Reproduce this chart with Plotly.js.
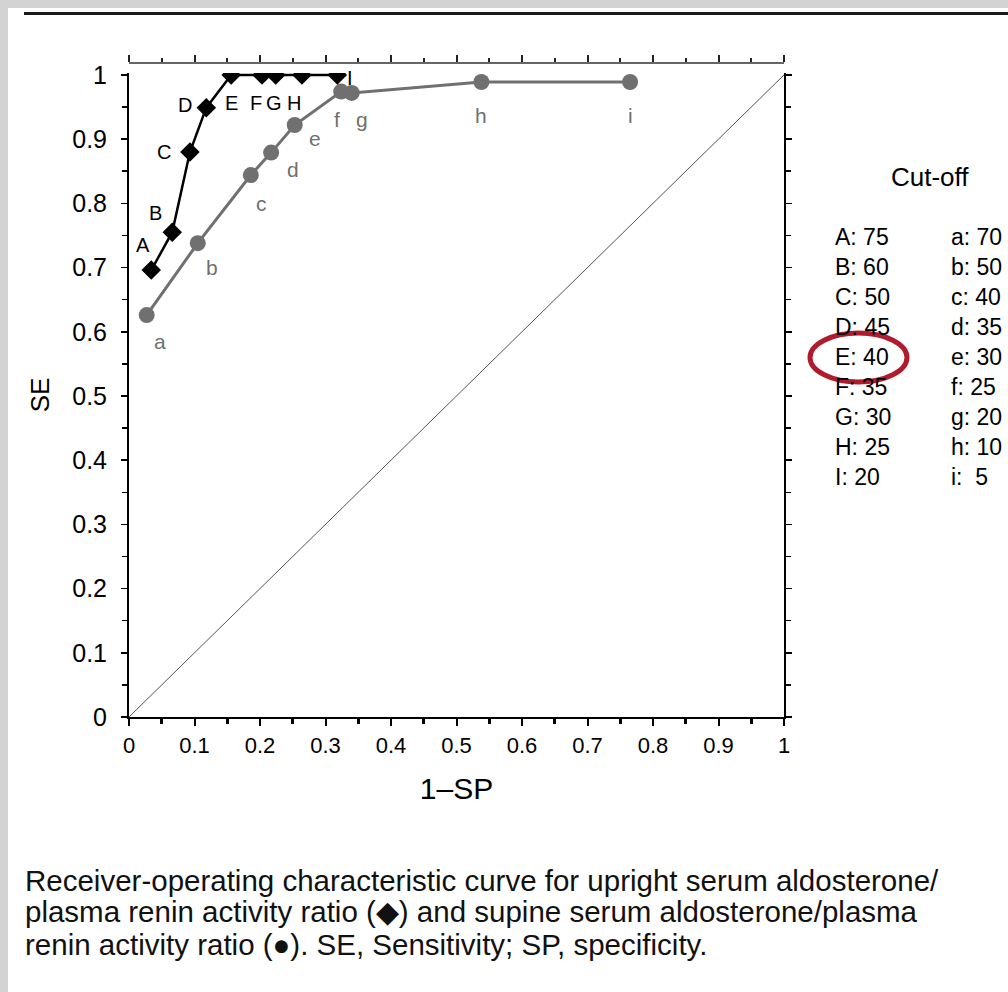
<!DOCTYPE html>
<html>
<head>
<meta charset="utf-8">
<script src="https://cdn.plot.ly/plotly-3.0.1.min.js"></script>
<style>
  html, body { margin: 0; padding: 0; background: #d3d3d3; width: 1008px; height: 992px; overflow: hidden; }
  #plot { position: absolute; left: 8px; top: 8px; width: 1000px; height: 984px; background: #fff; }
</style>
</head>
<body>
<div id="plot"></div>
<script>
// ---- data ----
const uprightLabels = ["A", "B", "C", "D", "E", "F", "G", "H", "I"];
const uprightX = [0.034, 0.066, 0.093, 0.118, 0.156, 0.203, 0.224, 0.264, 0.318];
const uprightY = [0.696, 0.755, 0.880, 0.949, 1.0, 1.0, 1.0, 1.0, 1.0];
const uprightCutoff = [75, 60, 50, 45, 40, 35, 30, 25, 20];

const supineLabels = ["a", "b", "c", "d", "e", "f", "g", "h", "i"];
const supineX = [0.027, 0.105, 0.186, 0.217, 0.253, 0.324, 0.340, 0.538, 0.765];
const supineY = [0.626, 0.738, 0.844, 0.879, 0.922, 0.974, 0.972, 0.989, 0.989];
const supineCutoff = [70, 50, 40, 35, 30, 25, 20, 10, 5];

const diagX = [0, 1];
const diagY = [0, 1];

const xTitle = "1\u2013SP";
const yTitle = "SE";
const legendTitle = "Cut-off";
const caption = [
  "Receiver-operating characteristic curve for upright serum aldosterone/",
  "plasma renin activity ratio (\u25C6) and supine serum aldosterone/plasma",
  "renin activity ratio (\u25CF). SE, Sensitivity; SP, specificity."
];

// ---- layout helpers (page pixel -> paper coords) ----
const OX = 8, OY = 8;               // div offset in page
const L = 129, R = 784, T = 63, B = 717;
const px = x => (x - L) / (R - L);
const py = y => (B - y) / (B - T);

const FONT = "Liberation Sans, Arial, Helvetica, sans-serif";
const GRAY = "#707070";

// label offsets (pixels), styling only
const uprightOff = [[-8, 25], [-17, 19], [-26, 0], [-21, 3], [0, -28], [-6, -28], [-2, -28], [-8, -28], [13, -3]];
const supineOff = [[13, -26], [14, -24], [11, -28], [22, -17], [20, -13], [-4, -28], [10, -27], [0, -34], [0, -34]];

const traces = [
  { x: diagX, y: diagY, mode: "lines", line: { color: "#555", width: 1 }, hoverinfo: "skip", showlegend: false },
  { x: supineX, y: supineY, mode: "lines+markers", line: { color: GRAY, width: 3 },
    marker: { symbol: "circle", size: 16, color: GRAY }, showlegend: false },
  { x: uprightX, y: uprightY, mode: "lines+markers", line: { color: "#000", width: 2.5 },
    marker: { symbol: "diamond", size: 15, color: "#000" }, showlegend: false }
];

const annotations = [];
uprightLabels.forEach((t, i) => annotations.push({
  x: uprightX[i], y: uprightY[i], xref: "x", yref: "y", text: t, showarrow: false,
  xshift: uprightOff[i][0], yshift: uprightOff[i][1],
  font: { family: FONT, size: 20, color: "#000" }
}));
supineLabels.forEach((t, i) => annotations.push({
  x: supineX[i], y: supineY[i], xref: "x", yref: "y", text: t, showarrow: false,
  xshift: supineOff[i][0], yshift: supineOff[i][1],
  font: { family: FONT, size: 21, color: GRAY }
}));

// cut-off table
annotations.push({ x: px(930), y: py(177), xref: "paper", yref: "paper", text: legendTitle,
  showarrow: false, xanchor: "center", yanchor: "middle", font: { family: FONT, size: 26, color: "#000" } });
uprightLabels.forEach((t, i) => {
  annotations.push({ x: px(833), y: py(237 + 30 * i), xref: "paper", yref: "paper",
    text: t + ": " + uprightCutoff[i], showarrow: false, xanchor: "left", yanchor: "middle",
    font: { family: FONT, size: 23, color: "#000" } });
  annotations.push({ x: px(949), y: py(237 + 30 * i), xref: "paper", yref: "paper",
    text: supineLabels[i] + ": " + (supineCutoff[i] < 10 ? " " : "") + supineCutoff[i], showarrow: false, xanchor: "left", yanchor: "middle",
    font: { family: FONT, size: 23, color: "#000" } });
});

// caption
caption.forEach((line, i) => annotations.push({
  x: px(23), y: py(880 + 32 * i), xref: "paper", yref: "paper", text: line, showarrow: false,
  xanchor: "left", yanchor: "middle", font: { family: FONT, size: 29.5, color: "#111" }
}));

const shapes = [
  // top rule of the page
  { type: "line", xref: "paper", yref: "paper", x0: px(24), x1: px(1012), y0: py(13.5), y1: py(13.5),
    line: { color: "#1a1a1a", width: 3 } },
  // red ellipse around E: 40
  { type: "circle", xref: "paper", yref: "paper", x0: px(810), x1: px(907), y0: py(382), y1: py(333),
    line: { color: "#b01c2e", width: 5 } }
];

const layout = {
  width: 1000, height: 984,
  margin: { l: L - OX, r: 1000 - (R - OX), t: T - OY, b: 984 - (B - OY) },
  paper_bgcolor: "#fff", plot_bgcolor: "#fff",
  showlegend: false,
  xaxis: {
    range: [0, 1], dtick: 0.1, tick0: 0, showgrid: false, zeroline: false,
    showline: true, linecolor: "#000", linewidth: 2,
    ticks: "outside", ticklen: 7, tickwidth: 2, tickcolor: "#000",
    minor: { dtick: 0.05, ticks: "outside", ticklen: 5, tickwidth: 3, tickcolor: "#000" },
    tickfont: { family: FONT, size: 22, color: "#000" }, ticklabelstandoff: 1,
    title: { text: xTitle, font: { family: FONT, size: 30, color: "#000" }, standoff: 21 },
    fixedrange: true
  },
  xaxis2: {
    overlaying: "x", side: "top", anchor: "free", position: 1,
    range: [0, 1], dtick: 0.1, tick0: 0, showgrid: false, zeroline: false,
    showline: true, linecolor: "#666", linewidth: 2, showticklabels: false,
    ticks: "outside", ticklen: 7, tickwidth: 2, tickcolor: "#222",
    minor: { dtick: 0.05, ticks: "outside", ticklen: 4, tickwidth: 2, tickcolor: "#222" }
  },
  yaxis: {
    range: [0, 1.003], domain: [0, (B - 73) / (B - T)], dtick: 0.1, tick0: 0,
    showgrid: false, zeroline: false,
    showline: true, linecolor: "#000", linewidth: 2, mirror: "ticks",
    ticks: "outside", ticklen: 6, tickwidth: 1.5, tickcolor: "#000",
    minor: { dtick: 0.05, ticks: "outside", ticklen: 5, tickwidth: 1.5, tickcolor: "#000" },
    tickfont: { family: FONT, size: 25, color: "#000" }, ticklabelstandoff: 9,
    title: { text: yTitle, font: { family: FONT, size: 26, color: "#000" }, standoff: 15 },
    fixedrange: true
  },
  annotations: annotations,
  shapes: shapes
};

// an empty trace so the top axis is drawn
traces.push({ x: [], y: [], xaxis: "x2", yaxis: "y", mode: "markers", showlegend: false, hoverinfo: "skip" });

Plotly.newPlot("plot", traces, layout, { displayModeBar: false, staticPlot: true });
</script>
</body>
</html>
